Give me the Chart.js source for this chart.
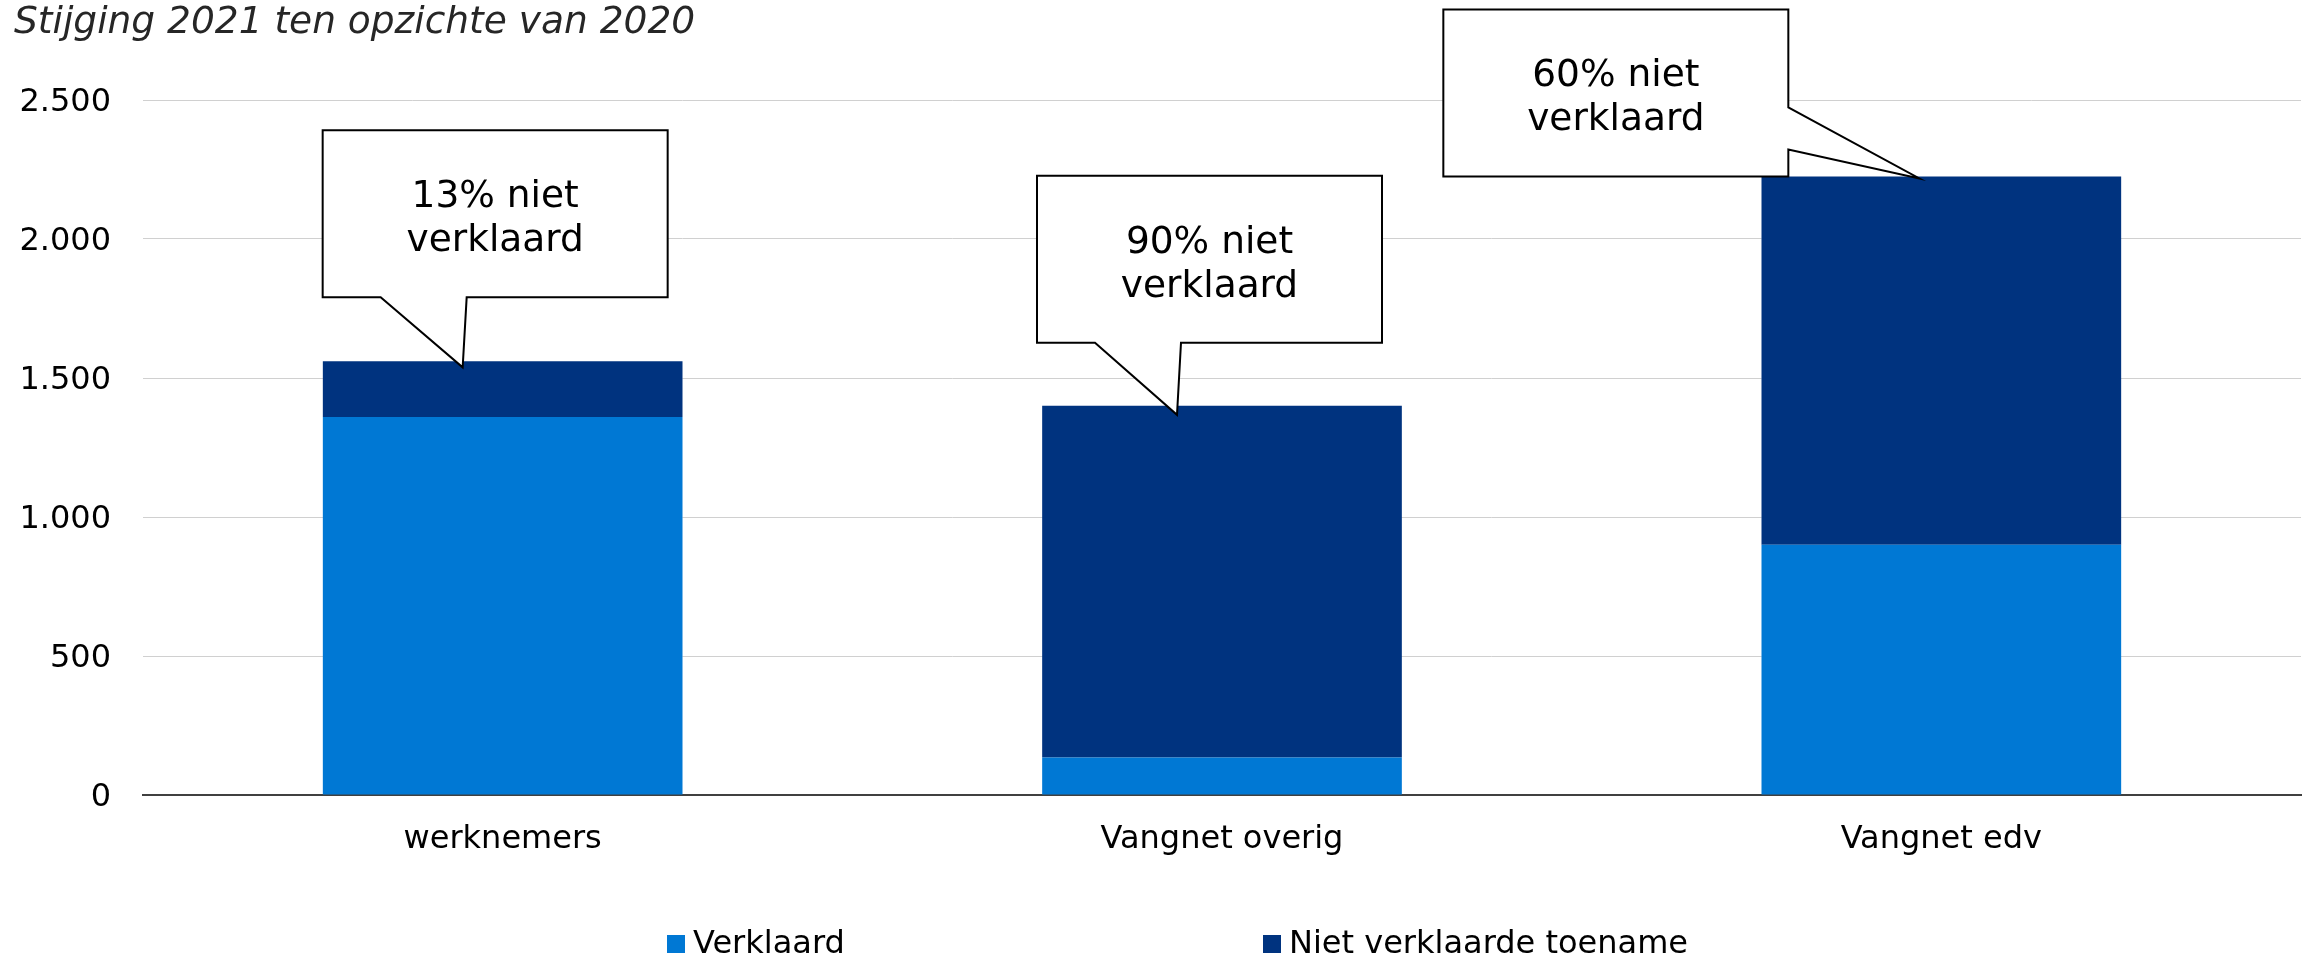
<!DOCTYPE html>
<html>
<head>
<meta charset="utf-8">
<script src="https://cdn.jsdelivr.net/npm/chart.js@4.4.0/dist/chart.umd.min.js"></script>
<style>
    body { margin: 0; background: #fff; }
    canvas { display: block; }
</style>
</head>
<body>
<canvas id="chart" width="2308" height="960"></canvas>
<script>
// Chart data
const categories = ['werknemers', 'Vangnet overig', 'Vangnet edv'];
const verklaard = [1360, 135, 900];
const nietVerklaard = [200, 1265, 1325];
const yTicks = [0, 500, 1000, 1500, 2000, 2500];
const seriesLabels = ['Verklaard', 'Niet verklaarde toename'];
const titleText = 'Stijging 2021 ten opzichte van 2020';

// Colours
const colors = ['#0078d4', '#00337f'];

// Callout layout (offsets in px from the top of each stacked bar)
const callouts = [
    { tipDx: -40, tipDy: 6, boxDx: -140, boxDy: -237, tail: 'bottom' },
    { tipDx: -45, tipDy: 9, boxDx: -140, boxDy: -239, tail: 'bottom' },
    { tipDx: -22, tipDy: 2, boxDx: -476, boxDy: -169, tail: 'right' }
];
const boxW = 345;
const boxH = 167;

// Format numbers with a dot as thousands separator
function formatNumber(v) {
    return String(v).replace(/\B(?=(\d{3})+(?!\d))/g, '.');
}

Chart.defaults.font.family = '"DejaVu Sans", Verdana, sans-serif';
Chart.defaults.color = '#000';

// Title, legend and callouts
const extrasPlugin = {
    id: 'extras',
    afterDraw(chart) {
        const ctx = chart.ctx;
        ctx.save();

        // Title
        ctx.font = 'italic 37.5px "DejaVu Sans"';
        ctx.fillStyle = '#262626';
        ctx.textAlign = 'left';
        ctx.textBaseline = 'alphabetic';
        ctx.fillText(titleText, 14, 33);

        // Legend
        const legendX = [667, 1263];
        ctx.font = '32px "DejaVu Sans"';
        ctx.textBaseline = 'middle';
        seriesLabels.forEach((label, i) => {
            ctx.fillStyle = colors[i];
            ctx.fillRect(legendX[i], 935, 18, 18);
            ctx.fillStyle = '#000';
            ctx.fillText(label, legendX[i] + 26, 945);
        });

        // Callouts
        const meta = chart.getDatasetMeta(1);
        ctx.lineWidth = 2;
        ctx.strokeStyle = '#000';
        meta.data.forEach((bar, i) => {
            const c = callouts[i];
            const tx = bar.x + c.tipDx;
            const ty = bar.y + c.tipDy;
            const L = tx + c.boxDx;
            const T = ty + c.boxDy;
            const R = L + boxW;
            const B = T + boxH;

            ctx.beginPath();
            ctx.moveTo(L, T);
            ctx.lineTo(R, T);
            if (c.tail === 'right') {
                ctx.lineTo(R, T + 98);
                ctx.lineTo(tx, ty);
                ctx.lineTo(R, T + 140);
                ctx.lineTo(R, B);
                ctx.lineTo(L, B);
            } else {
                ctx.lineTo(R, B);
                ctx.lineTo(L + 144, B);
                ctx.lineTo(tx, ty);
                ctx.lineTo(L + 58, B);
                ctx.lineTo(L, B);
            }
            ctx.closePath();
            ctx.fillStyle = '#fff';
            ctx.fill();
            ctx.stroke();

            const total = verklaard[i] + nietVerklaard[i];
            const pct = Math.round(nietVerklaard[i] / total * 100);
            ctx.fillStyle = '#000';
            ctx.font = '37.5px "DejaVu Sans"';
            ctx.textAlign = 'center';
            ctx.textBaseline = 'middle';
            ctx.fillText(pct + '% niet', (L + R) / 2, T + 67);
            ctx.fillText('verklaard', (L + R) / 2, T + 111);
        });

        ctx.restore();
    }
};

const ctx = document.getElementById('chart').getContext('2d');

new Chart(ctx, {
    type: 'bar',
    data: {
        labels: categories,
        datasets: [
            {
                label: seriesLabels[0],
                data: verklaard,
                backgroundColor: colors[0],
                borderWidth: 0,
                barPercentage: 0.5,
                categoryPercentage: 1
            },
            {
                label: seriesLabels[1],
                data: nietVerklaard,
                backgroundColor: colors[1],
                borderWidth: 0,
                barPercentage: 0.5,
                categoryPercentage: 1
            }
        ]
    },
    options: {
        responsive: false,
        animation: false,
        layout: {
            padding: { top: 100, right: 7, bottom: 80, left: 0 }
        },
        plugins: {
            legend: { display: false },
            tooltip: { enabled: false }
        },
        scales: {
            x: {
                stacked: true,
                grid: { display: false, drawTicks: false },
                border: { display: true, color: '#404040', width: 2 },
                ticks: {
                    font: { size: 32 },
                    color: '#000',
                    padding: 25,
                    maxRotation: 0
                },
                afterFit(scale) {
                    scale.height = 85;
                }
            },
            y: {
                stacked: true,
                min: 0,
                max: 2500,
                grid: { color: '#d0d0d0', lineWidth: 1, drawTicks: false },
                border: { display: false },
                afterBuildTicks(scale) {
                    scale.ticks = yTicks.map(v => ({ value: v }));
                },
                ticks: {
                    font: { size: 32 },
                    color: '#000',
                    padding: 32,
                    labelOffset: 3,
                    callback: v => formatNumber(v)
                },
                afterFit(scale) {
                    scale.width = 143;
                }
            }
        }
    },
    plugins: [extrasPlugin]
});
</script>
</body>
</html>
